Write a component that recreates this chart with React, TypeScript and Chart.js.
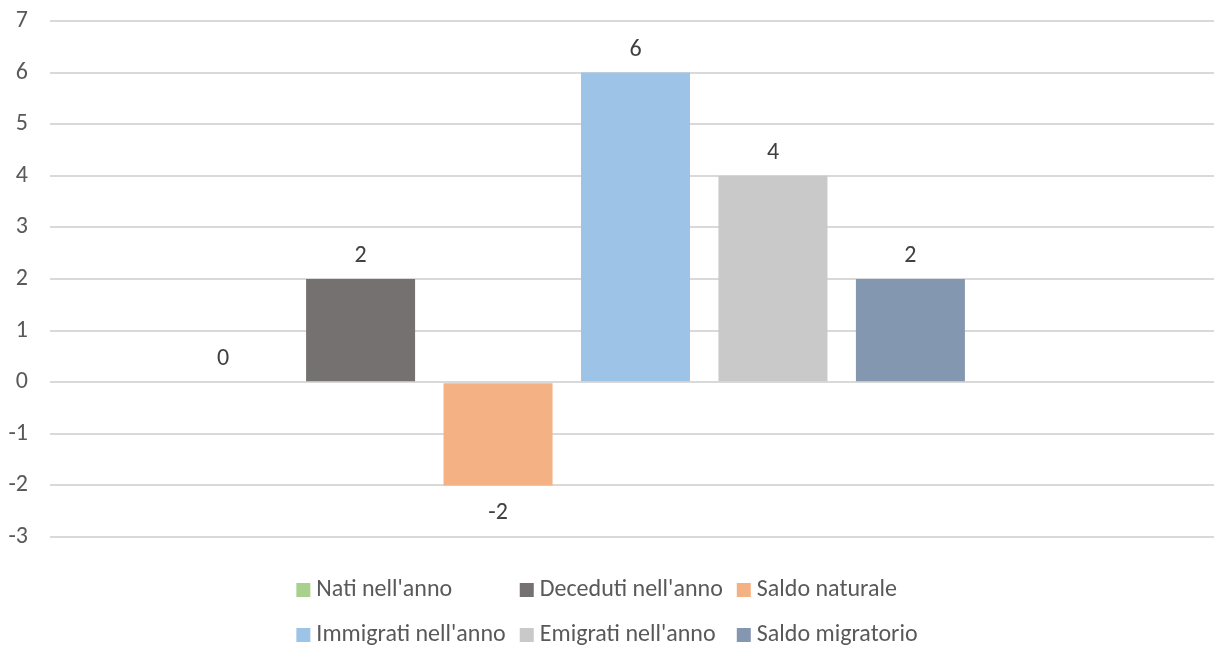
import React, { useEffect, useRef } from "react";
import { Chart, registerables } from "chart.js";

Chart.register(...registerables);

// Demographic balance for the year: births, deaths, migration flows
const categories = [""];
const seriesNames = [
  "Nati nell'anno",
  "Deceduti nell'anno",
  "Saldo naturale",
  "Immigrati nell'anno",
  "Emigrati nell'anno",
  "Saldo migratorio",
];
const seriesValues = [0, 2, -2, 6, 4, 2];
const seriesColors = ["#A9D18E", "#767171", "#F4B183", "#9DC3E6", "#C9C9C9", "#8497B0"];
const yMin = -3;
const yMax = 7;
const yStep = 1;

const VIEW_WIDTH = 1214;
const VIEW_HEIGHT = 645;
// the plot runs slightly past the right edge of the visible frame
const CANVAS_WIDTH = 1221;

const FONT_FAMILY = "Carlito, Calibri, 'Liberation Sans', sans-serif";
const TEXT_COLOR = "#595959";
const LABEL_COLOR = "#404040";
const GRID_COLOR = "#D9D9D9";

// Value labels: above positive bars, below negative ones
const valueLabels = {
  id: "valueLabels",
  afterDatasetsDraw(chart: Chart) {
    const { ctx } = chart;
    ctx.save();
    ctx.font = `24px ${FONT_FAMILY}`;
    ctx.fillStyle = LABEL_COLOR;
    ctx.textAlign = "center";
    ctx.textBaseline = "alphabetic";
    chart.data.datasets.forEach((ds, di) => {
      const meta = chart.getDatasetMeta(di);
      meta.data.forEach((el: any, i: number) => {
        const v = ds.data[i] as number | null;
        if (v === null || v === undefined) return;
        const { x, y } = el.getProps(["x", "y"], true);
        if (v >= 0) {
          ctx.fillText(String(v), x, y - 17);
        } else {
          ctx.fillText(String(v), x, y + 34);
        }
      });
    });
    ctx.restore();
  },
};

// Legend laid out as a grid of columns under the plot
const gridLegend = {
  id: "gridLegend",
  afterDraw(chart: Chart) {
    const { ctx, chartArea } = chart;
    const items = chart.data.datasets
      .map((ds, i) => ({ text: String(ds.label ?? ""), color: seriesColors[i] }))
      .filter((it) => it.text !== "");
    const cols = 3;
    const box = 14;
    const gap = 6;
    const spacing = 14;
    ctx.save();
    ctx.font = `24px ${FONT_FAMILY}`;
    const colWidths: number[] = [];
    items.forEach((it, i) => {
      const c = i % cols;
      const w = box + gap + ctx.measureText(it.text).width;
      colWidths[c] = Math.max(colWidths[c] ?? 0, w);
    });
    const total = colWidths.reduce((a, b) => a + b, 0) + spacing * (cols - 1);
    const startX = (VIEW_WIDTH - total) / 2;
    const firstBaseline = chartArea.bottom + 59;
    const rowPitch = 45;
    ctx.textAlign = "left";
    ctx.textBaseline = "alphabetic";
    items.forEach((it, i) => {
      const c = i % cols;
      const r = Math.floor(i / cols);
      let x = startX;
      for (let k = 0; k < c; k++) x += colWidths[k] + spacing;
      const baseline = firstBaseline + r * rowPitch;
      ctx.fillStyle = it.color;
      ctx.fillRect(x, baseline - 13, box, box);
      ctx.fillStyle = TEXT_COLOR;
      ctx.fillText(it.text, x + box + gap, baseline);
    });
    ctx.restore();
  },
};

export default function App() {
  const canvasRef = useRef<HTMLCanvasElement | null>(null);

  useEffect(() => {
    document.body.style.margin = "0";
    const canvas = canvasRef.current;
    if (!canvas) return;

    const datasets: any[] = seriesNames.map((name, i) => ({
      label: name,
      data: [seriesValues[i]],
      backgroundColor: seriesColors[i],
      borderWidth: 0,
    }));
    // empty trailing slot in the cluster
    datasets.push({ label: "", data: [null], backgroundColor: "rgba(0,0,0,0)", borderWidth: 0 });

    const chart = new Chart(canvas, {
      type: "bar",
      data: { labels: categories, datasets },
      options: {
        responsive: false,
        animation: false,
        devicePixelRatio: 1,
        layout: { padding: { top: 21, right: 0, bottom: 108, left: 0 } },
        datasets: {
          bar: { categoryPercentage: 0.8217, barPercentage: 0.793 },
        },
        plugins: {
          legend: { display: false },
          tooltip: { enabled: false },
          title: { display: false },
        },
        scales: {
          x: { display: false },
          y: {
            min: yMin,
            max: yMax,
            border: { display: false },
            grid: {
              color: GRID_COLOR,
              lineWidth: 2,
              drawTicks: true,
              tickLength: 22,
              tickColor: "rgba(0,0,0,0)",
            },
            ticks: {
              stepSize: yStep,
              padding: 0,
              color: TEXT_COLOR,
              font: { family: FONT_FAMILY, size: 24 },
            },
            afterFit: (axis: any) => {
              axis.width = 50;
            },
          },
        },
      },
      plugins: [valueLabels, gridLegend],
    });

    return () => chart.destroy();
  }, []);

  return (
    <div
      style={{
        width: VIEW_WIDTH,
        height: VIEW_HEIGHT,
        overflow: "hidden",
        background: "#FFFFFF",
      }}
    >
      <canvas ref={canvasRef} width={CANVAS_WIDTH} height={VIEW_HEIGHT} />
    </div>
  );
}
